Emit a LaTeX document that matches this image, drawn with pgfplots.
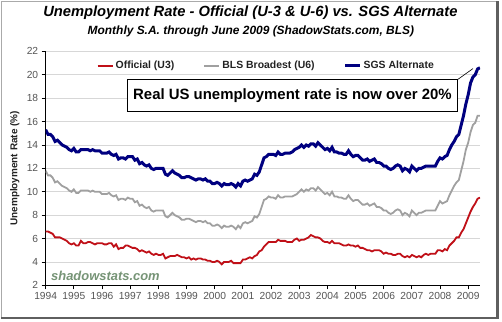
\documentclass[border=0pt]{standalone}
\usepackage{pgfplots}
\pgfplotsset{compat=1.18}
\usepackage{pgfplotstable}
\usepackage{fontspec}
\setmainfont{Liberation Sans}
\definecolor{u3red}{RGB}{192,16,24}
\definecolor{u6gray}{RGB}{160,160,160}
\definecolor{sgsnavy}{RGB}{0,0,128}
\definecolor{ticktxt}{RGB}{85,85,85}
\definecolor{gridc}{RGB}{215,215,215}
\definecolor{ssgreen}{RGB}{118,148,118}
\definecolor{framelight}{RGB}{170,170,170}
\definecolor{framedark}{RGB}{95,95,95}
\definecolor{lgtext}{RGB}{34,34,34}

\pgfplotstableread{
u3 u6 sgs
6.6 11.8 15.3
6.6 11.4 14.9
6.5 11.4 14.9
6.4 11.2 14.7
6.1 10.8 14.3
6.1 10.9 14.4
6.1 10.7 14.2
6.0 10.5 14.0
5.9 10.4 13.9
5.8 10.3 13.8
5.6 10.1 13.6
5.5 10.0 13.5
5.6 10.2 13.7
5.4 9.9 13.4
5.4 9.9 13.4
5.8 10.1 13.6
5.6 10.1 13.6
5.6 10.1 13.6
5.7 10.1 13.6
5.7 10.0 13.5
5.6 10.1 13.6
5.5 10.0 13.5
5.6 10.0 13.5
5.6 10.0 13.5
5.6 9.8 13.3
5.5 9.8 13.3
5.5 9.8 13.3
5.6 9.9 13.4
5.6 9.7 13.2
5.3 9.6 13.1
5.5 9.7 13.2
5.1 9.3 12.8
5.2 9.4 12.9
5.2 9.4 12.9
5.4 9.3 12.8
5.4 9.5 13.0
5.3 9.4 13.0
5.2 9.4 13.0
5.2 9.1 12.7
5.1 9.2 12.8
4.9 8.8 12.4
5.0 8.9 12.5
4.9 8.7 12.3
4.8 8.6 12.2
4.9 8.7 12.3
4.7 8.4 12.0
4.6 8.3 11.9
4.7 8.4 12.0
4.6 8.4 12.0
4.6 8.4 12.0
4.7 8.4 12.0
4.3 7.9 11.5
4.4 7.8 11.4
4.5 8.0 11.6
4.5 8.2 11.8
4.5 8.0 11.6
4.6 7.9 11.5
4.5 7.8 11.4
4.4 7.6 11.2
4.4 7.6 11.2
4.3 7.7 11.3
4.4 7.7 11.3
4.2 7.6 11.2
4.3 7.5 11.1
4.2 7.4 11.0
4.3 7.5 11.1
4.3 7.5 11.1
4.2 7.4 11.0
4.2 7.5 11.1
4.1 7.3 10.9
4.1 7.3 10.9
4.0 7.1 10.7
4.0 7.1 10.7
4.1 7.2 10.8
4.0 7.1 10.7
3.8 6.9 10.5
4.0 7.1 10.7
4.0 7.0 10.6
4.0 7.0 10.6
4.1 7.1 10.7
3.9 7.0 10.6
3.9 6.8 10.4
3.9 7.1 10.7
3.9 6.9 10.5
4.2 7.3 10.9
4.2 7.4 11.0
4.3 7.3 10.9
4.4 7.4 11.0
4.3 7.5 11.1
4.5 7.9 11.5
4.6 7.8 11.4
4.9 8.1 11.7
5.0 8.7 12.3
5.3 9.3 12.9
5.5 9.4 13.0
5.7 9.6 13.2
5.7 9.5 13.2
5.7 9.5 13.2
5.7 9.4 13.1
5.9 9.7 13.4
5.8 9.5 13.2
5.8 9.5 13.2
5.8 9.6 13.3
5.7 9.6 13.3
5.7 9.6 13.3
5.7 9.6 13.4
5.9 9.7 13.6
6.0 9.8 13.7
5.8 10.0 13.8
5.9 10.2 14.0
5.9 10.0 13.8
6.0 10.2 14.0
6.1 10.1 13.9
6.3 10.3 14.1
6.2 10.3 14.1
6.1 10.1 13.9
6.1 10.4 14.2
6.0 10.2 14.0
5.8 10.0 13.8
5.7 9.8 13.6
5.7 9.9 13.7
5.6 9.7 13.5
5.8 10.0 13.8
5.6 9.6 13.4
5.6 9.6 13.4
5.6 9.5 13.3
5.5 9.5 13.3
5.4 9.4 13.2
5.4 9.4 13.2
5.5 9.7 13.5
5.4 9.4 13.2
5.4 9.2 13.0
5.3 9.3 13.1
5.4 9.3 13.1
5.2 9.1 12.9
5.2 8.9 12.7
5.1 8.9 12.7
5.0 9.0 12.8
5.0 8.8 12.6
4.9 8.9 12.7
5.0 9.0 12.8
5.0 8.7 12.5
5.0 8.7 12.5
4.9 8.6 12.4
4.7 8.4 12.2
4.8 8.4 12.2
4.7 8.2 12.0
4.7 8.1 11.9
4.6 8.2 12.0
4.6 8.4 12.2
4.7 8.5 12.3
4.7 8.4 12.2
4.5 8.0 11.8
4.4 8.2 12.0
4.5 8.1 11.9
4.4 7.9 11.7
4.6 8.4 12.2
4.5 8.2 12.0
4.4 8.0 11.8
4.5 8.2 12.0
4.4 8.2 12.0
4.6 8.3 12.1
4.7 8.4 12.2
4.6 8.4 12.2
4.7 8.4 12.2
4.7 8.4 12.2
4.7 8.4 12.2
5.0 8.8 12.6
5.0 9.2 12.9
4.9 9.0 12.8
5.1 9.1 13.0
5.0 9.2 13.1
5.4 9.7 13.6
5.6 10.1 14.0
5.8 10.5 14.3
6.1 10.8 14.7
6.1 11.0 14.9
6.5 11.8 15.7
6.8 12.6 16.5
7.3 13.6 17.5
7.8 14.2 18.3
8.3 15.1 19.3
8.7 15.7 19.8
9.0 15.9 20.0
9.4 16.5 20.5
9.5 16.5 20.6
}\data

\begin{document}
\begin{tikzpicture}[x=1bp,y=1bp]
\fill[white] (0,0) rectangle (502,321);
\draw[framelight, line width=1bp] (0.5,3.5) -- (0.5,320.5) -- (497.5,320.5);
\draw[framedark, line width=2.5bp] (0.5,3.5) -- (497.5,3.5) -- (497.5,320.5);

\node[font=\bfseries\itshape\fontsize{14.8}{17}\selectfont] at (250,309) {Unemployment Rate - Official (U-3 \& U-6) vs. SGS Alternate};
\node[font=\bfseries\itshape\fontsize{12}{14}\selectfont] at (250.5,290) {Monthly S.A. through June 2009 (ShadowStats.com, BLS)};

\begin{axis}[
  at={(45bp,36bp)}, anchor=south west,
  scale only axis, width=435bp, height=234.3bp,
  xmin=1994, xmax=2009.42, ymin=2, ymax=22,
  xtick={1994,1995,...,2009}, ytick={2,4,...,22},
  /pgf/number format/set thousands separator={},
  /pgf/number format/assume math mode=true,
  axis lines*=left,
  axis line style={black, line width=0.9bp},
  ymajorgrids, grid style={gridc, line width=0.8bp},
  tick align=outside, major tick length=4bp,
  tick style={black, line width=0.8bp},
  every tick label/.append style={font=\fontsize{10.3}{12}\selectfont, text=ticktxt},
  ylabel={Unemployment Rate (\%)},
  ylabel style={font=\bfseries\fontsize{10}{12}\selectfont, text=lgtext, at={(axis description cs:-0.0713,0.5)}, anchor=center},
  legend image code/.code={\draw[#1, line width=2.2bp] (0bp,0bp) -- (15bp,0bp);},
  legend style={at={(axis description cs:0.1166,0.939)}, anchor=west, draw=none, fill=none, inner sep=0pt,
    font=\bfseries\fontsize{10.5}{12}\selectfont, text=lgtext,
    /tikz/every even column/.append style={column sep=27bp}},
  legend columns=3, legend cell align=left,
]
\addplot[u3red, line width=1.8bp, mark=none] table[x expr=1994+\coordindex/12, y=u3] {\data};
\addlegendentry{Official (U3)}
\addplot[u6gray, line width=1.8bp, mark=none] table[x expr=1994+\coordindex/12, y=u6] {\data};
\addlegendentry{BLS Broadest (U6)}
\addplot[sgsnavy, line width=3bp, mark=none, legend image code/.code={\draw[sgsnavy, line width=3bp] (0bp,0bp) -- (15bp,0bp);}] table[x expr=1994+\coordindex/12, y=sgs] {\data};
\addlegendentry{SGS Alternate}
\draw[black, line width=0.6bp] (axis cs:2008.624,19.59) -- (axis cs:2009.17,20.53);
\draw[black, fill=white, line width=0.8bp] (axis cs:1996.895,16.84) rectangle (axis cs:2008.624,19.59);
\node[font=\bfseries\fontsize{15}{18}\selectfont] at (axis cs:2002.76,18.215) {Real US unemployment rate is now over 20\%};
\end{axis}

\node[font=\bfseries\itshape\fontsize{13}{15}\selectfont, text=ssgreen, anchor=west] at (47,45.3) {shadowstats.com};
\end{tikzpicture}
\end{document}
